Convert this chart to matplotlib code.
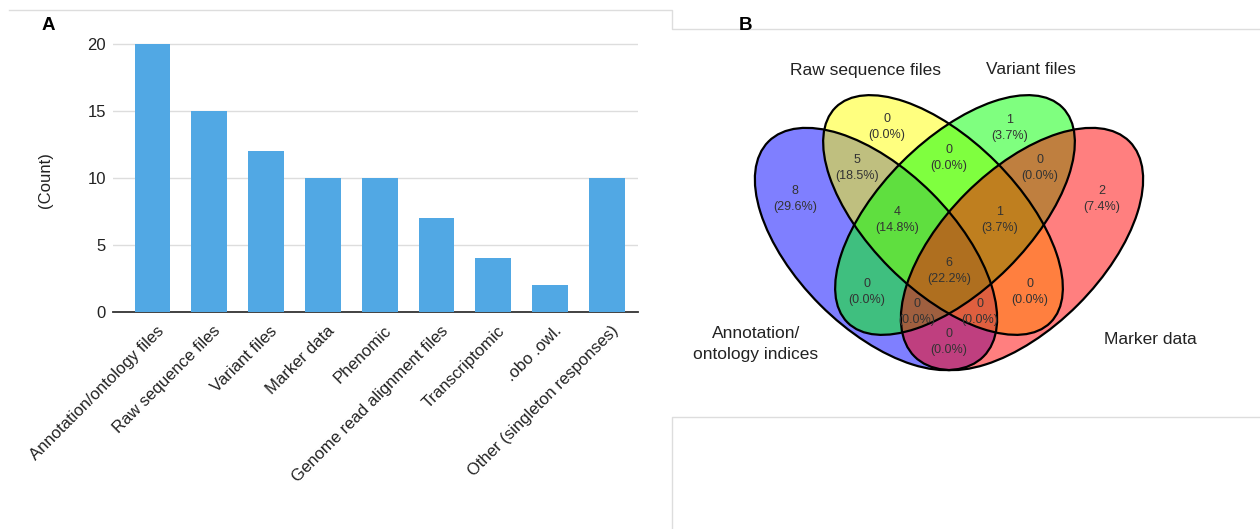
import numpy as np
import matplotlib.pyplot as plt
from matplotlib.patches import Ellipse
import matplotlib.transforms as mtransforms

plt.rcParams['font.family'] = ['Liberation Sans', 'DejaVu Sans']

# panel A data
categories = ["Annotation/ontology files", "Raw sequence files", "Variant files",
              "Marker data", "Phenomic", "Genome read alignment files",
              "Transcriptomic", ".obo .owl.", "Other (singleton responses)"]
counts = [20, 15, 12, 10, 10, 7, 4, 2, 10]

# panel B data (A=Annotation, B=Raw sequence, C=Variant, D=Marker)
set_names = ["Annotation/\nontology indices", "Raw sequence files", "Variant files", "Marker data"]
set_colors = ["#0000FF", "#FFFF00", "#00FF00", "#FF0000"]
region_names = ["A", "B", "C", "D", "AB", "BC", "CD", "AC", "BD", "AD",
                "ABC", "BCD", "ACD", "ABD", "ABCD"]
region_counts = [8, 0, 1, 2, 5, 0, 0, 0, 0, 0, 4, 1, 0, 0, 6]

W, H = 1260, 529
fig = plt.figure(figsize=(W / 100, H / 100), dpi=100)

# background axes in pixel coordinates (panel frames, letters, venn)
bg = fig.add_axes([0, 0, 1, 1])
bg.set_xlim(0, W)
bg.set_ylim(H, 0)
bg.axis('off')

frame = dict(color='#DDDDDD', lw=1)
bg.plot([9, 672, 672, W], [10, 10, 29, 29], **frame)
bg.plot([W, 672, 672], [417, 417, H], **frame)

bg.text(48, 25, "A", fontsize=13.5, fontweight='bold', ha='center', va='center')
bg.text(745, 25, "B", fontsize=13.5, fontweight='bold', ha='center', va='center')

# ---- panel A: bar chart
ax = fig.add_axes([113 / W, 1 - 312 / H, (638 - 113) / W, (312 - 43) / H])
ax.patch.set_alpha(0)
x = np.arange(len(categories))
ax.bar(x, counts, width=0.63, color='#51A8E4', zorder=3)
ax.set_xlim(-0.695, 8.546)
ax.set_ylim(0, 20.05)
ax.set_yticks([0, 5, 10, 15, 20])
ax.grid(axis='y', color='#DDDDDD', lw=1)
ax.set_axisbelow(True)
for s in ['top', 'right', 'left']:
    ax.spines[s].set_visible(False)
ax.spines['bottom'].set_color('#333333')
ax.spines['bottom'].set_linewidth(1.3)
ax.tick_params(length=0, labelsize=12, colors='#222222')
ax.tick_params(axis='y', pad=5)
ax.tick_params(axis='x', pad=12)
ax.set_xticks(x)
ax.set_xticklabels(categories, rotation=45, ha='right', va='center', rotation_mode='anchor')
shift = mtransforms.ScaledTranslation(9 / 100, 0, fig.dpi_scale_trans)
for lab in ax.get_xticklabels():
    lab.set_transform(lab.get_transform() + shift)
ax.set_ylabel("(Count)", fontsize=12, color='#222222')
ax.yaxis.set_label_coords(-0.114, 0.49)

# ---- panel B: four-set venn diagram
shapes = [((876, 249), 152, 79, 45), ((943, 215), 152, 75, 45),
          ((955, 215), 152, 75, -45), ((1022, 249), 152, 79, -45)]
for (c, a, b, ang), col in zip(shapes, set_colors):
    bg.add_patch(Ellipse(c, 2 * a, 2 * b, angle=ang, facecolor=col, alpha=0.5,
                         edgecolor='none', zorder=1))
for (c, a, b, ang) in shapes:
    bg.add_patch(Ellipse(c, 2 * a, 2 * b, angle=ang, fill=False,
                         edgecolor='black', lw=1.6, zorder=2))

name_pos = [(756, 344), (866, 70), (1031, 70), (1150, 339)]
for name, (px, py) in zip(set_names, name_pos):
    bg.text(px, py, name, fontsize=12.5, color='#222222', ha='center', va='center',
            linespacing=1.45, zorder=3)

region_pos = {"A": (795, 199), "B": (887, 127), "C": (1010, 128), "D": (1102, 199),
              "AB": (857, 168), "BC": (949, 158), "CD": (1040, 168), "AC": (867, 292),
              "BD": (1030, 292), "AD": (949, 342), "ABC": (897, 220), "BCD": (1000, 220),
              "ACD": (917, 312), "ABD": (980, 312), "ABCD": (949, 271)}
total = sum(region_counts)
for key, n in zip(region_names, region_counts):
    px, py = region_pos[key]
    bg.text(px, py, f"{n}\n({100 * n / total:.1f}%)", fontsize=9, color='#333333',
            ha='center', va='center', linespacing=1.45, zorder=3)

fig.savefig("out.png", dpi=100)
